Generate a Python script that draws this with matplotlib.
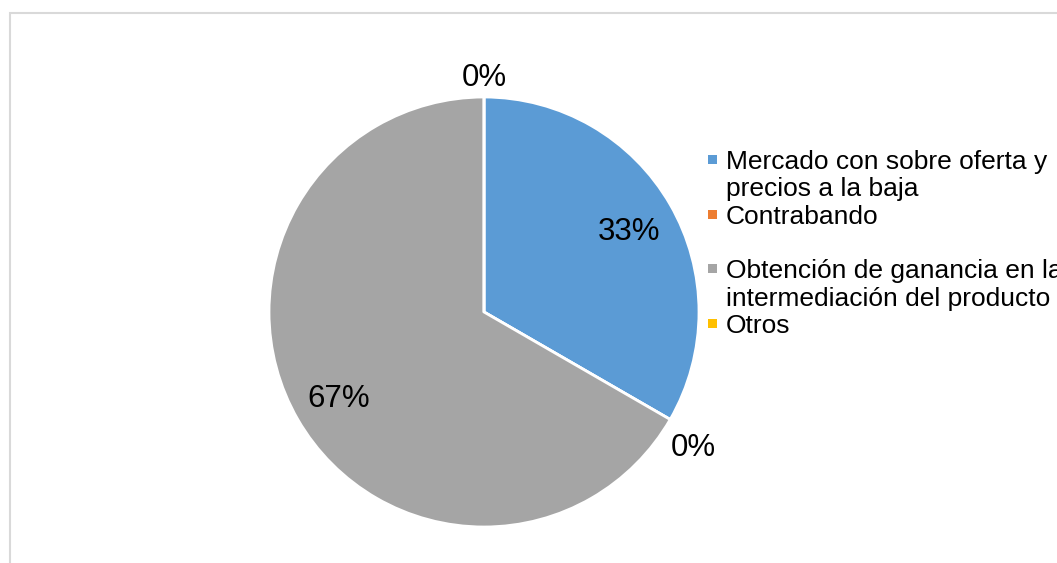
import matplotlib
matplotlib.use("Agg")
import matplotlib.pyplot as plt
import numpy as np
from matplotlib.patches import Rectangle

categorias = [
    "Mercado con sobre oferta y\nprecios a la baja",
    "Contrabando",
    "Obtención de ganancia en la\nintermediación del producto",
    "Otros",
]
valores = [1, 0, 2, 0]
colores = ["#5B9BD5", "#ED7D31", "#A5A5A5", "#FFC000"]

plt.rcParams["font.family"] = ["Liberation Sans", "DejaVu Sans"]

W, H = 1057, 563
fig = plt.figure(figsize=(W / 100, H / 100), dpi=100)
fig.patch.set_facecolor("white")

# marco gris del área del gráfico
fig.add_artist(Rectangle((9.5 / W, -0.1), 1.2, 1.1 - 13 / H, transform=fig.transFigure,
                         fill=False, edgecolor="#D9D9D9", linewidth=1.5))

# pastel: centro (484, 312) px, radio 215 px
cx, cy, r = 484, 312, 215
ax = fig.add_axes([(cx - r) / W, (H - cy - r) / H, 2 * r / W, 2 * r / H])
wedges, _, textos = ax.pie(valores, colors=colores, startangle=90, counterclock=False,
                           autopct="%1.0f%%", pctdistance=0.78,
                           wedgeprops=dict(edgecolor="white", linewidth=2),
                           textprops=dict(fontsize=22.5, color="black"))
ax.set_xlim(-1, 1)
ax.set_ylim(-1, 1)

for w, t, v in zip(wedges, textos, valores):
    if v == 0:
        # las etiquetas de porciones vacías van por fuera
        ang = np.deg2rad(w.theta1)
        s = np.sin(ang)
        if s > 0:
            t.set_position((1.09 * np.cos(ang), 1.09 * s))
        else:
            t.set_position((1.125 * np.cos(ang), 1.125 * s))
            t.set_va("top")
    else:
        t.set_va("center_baseline")

# leyenda en rejilla de renglones
y0, paso = 169, 27.33
renglon = 0
for nombre, color in zip(categorias, colores):
    lineas = nombre.split("\n")
    yb = y0 + renglon * paso
    fig.add_artist(Rectangle((707.5 / W, 1 - (yb - 5) / H), 9 / W, 9 / H,
                             transform=fig.transFigure, facecolor=color, edgecolor="none"))
    for i, linea in enumerate(lineas):
        fig.text(726 / W, 1 - (yb + i * paso) / H, linea, fontsize=19,
                 ha="left", va="baseline", color="black")
    renglon += 2

fig.savefig("out.png", dpi=100)
